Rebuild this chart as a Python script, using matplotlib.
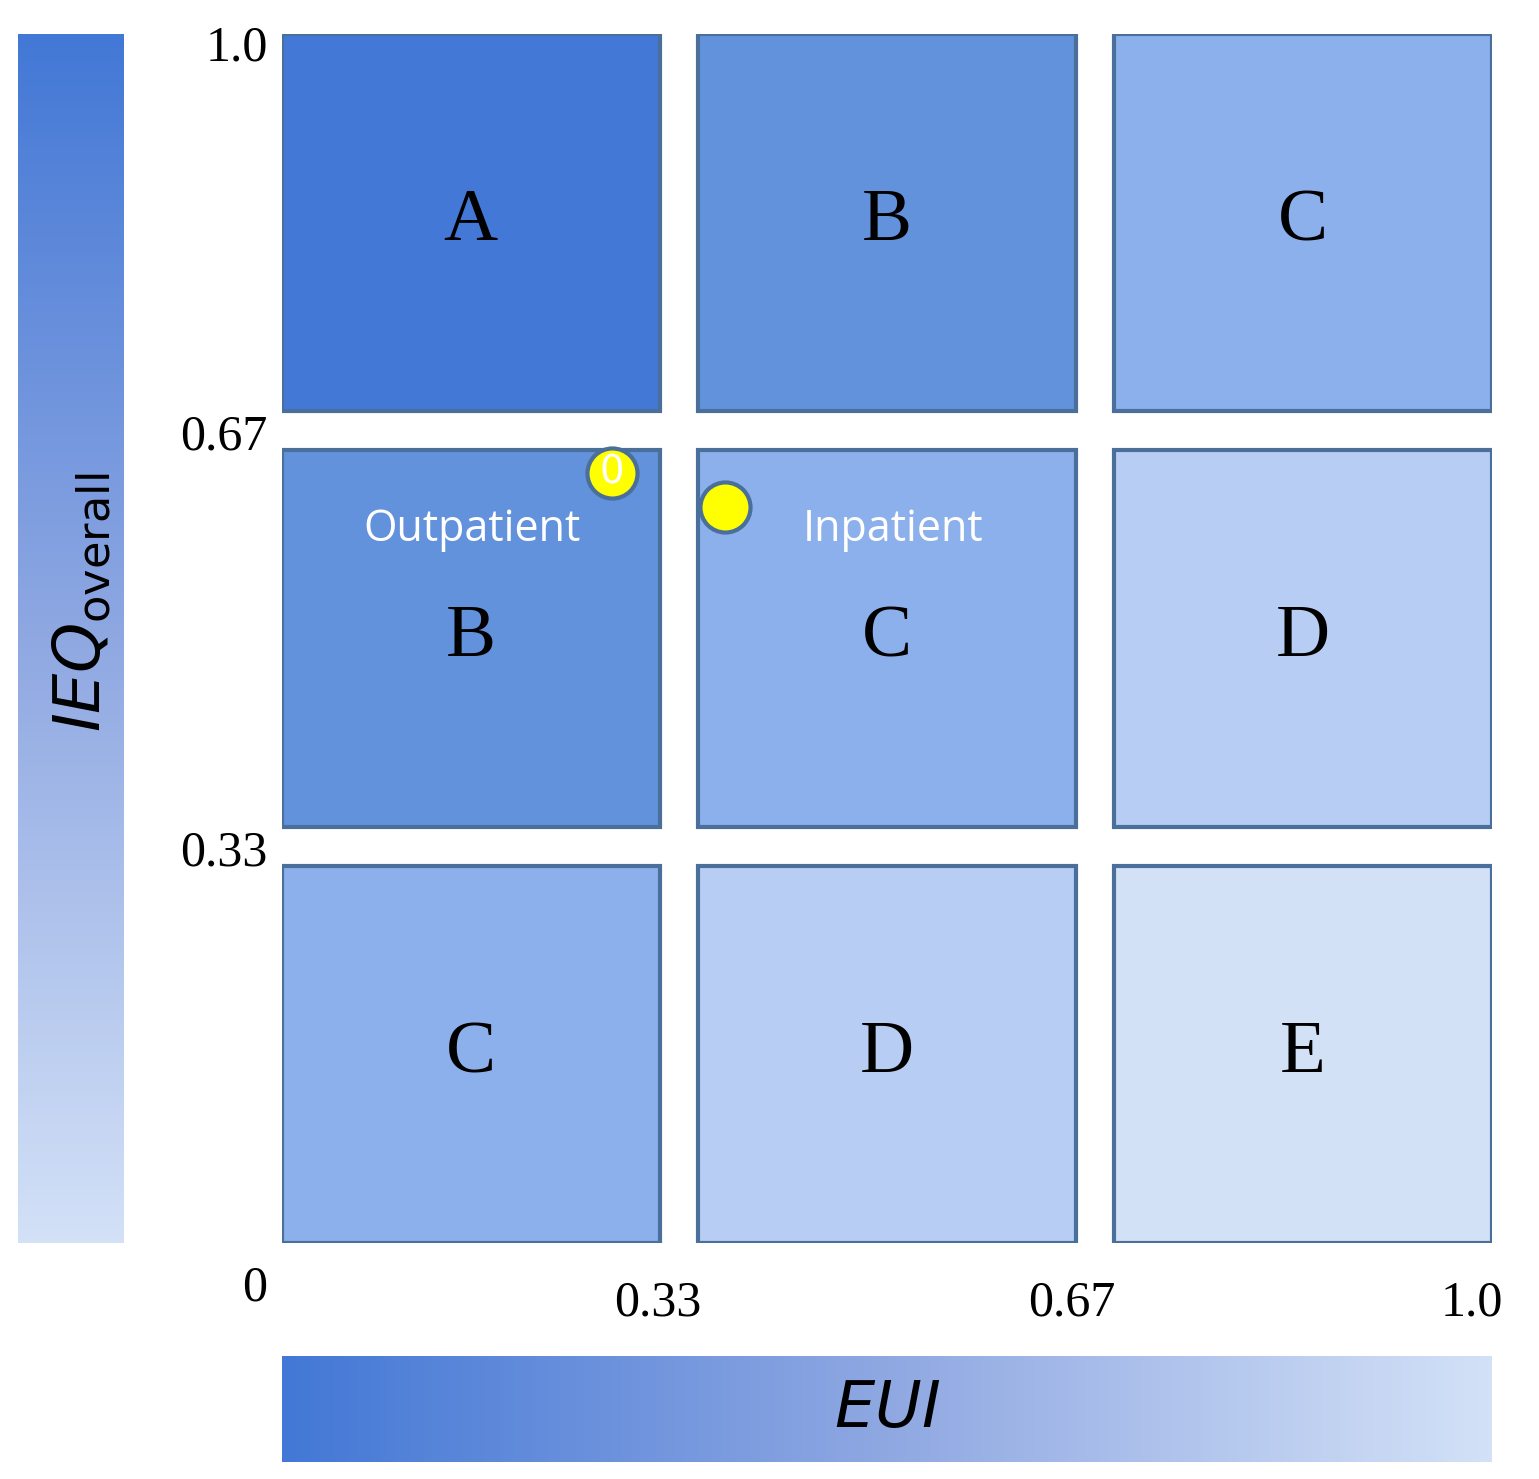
import matplotlib
matplotlib.use("Agg")
import matplotlib.pyplot as plt
import numpy as np
from matplotlib.patches import Rectangle
from matplotlib.colors import LinearSegmentedColormap

grades = [["C", "D", "E"], ["B", "C", "D"], ["A", "B", "C"]]  # rows bottom->top, cols left->right
grade_colors = {"A": "#4378d6", "B": "#6392dd", "C": "#8cb0ec", "D": "#b8cdf4", "E": "#d3e1f7"}
tick_vals = [0, 0.33, 0.67, 1.0]
tick_labels = ["0", "0.33", "0.67", "1.0"]
pt_names = ["Outpatient", "Inpatient"]
pt_x = [0.273, 0.366]
pt_y = [0.637, 0.609]

W, H = 1539, 1479
fig = plt.figure(figsize=(W/100, H/100), dpi=100)
def ax_px(x0, y0, x1, y1):
    return fig.add_axes([x0/W, 1-y1/H, (x1-x0)/W, (y1-y0)/H])

ax = ax_px(282, 34, 1492, 1243)
ax.set_xlim(0, 1); ax.set_ylim(0, 1); ax.axis("off")
starts = [0, 0.344, 0.688]
size = 0.312
for r in range(3):
    for c in range(3):
        g = grades[r][c]
        ax.add_patch(Rectangle((starts[c], starts[r]), size, size, facecolor=grade_colors[g],
                               edgecolor="#4a6f9a", linewidth=3, zorder=1))
        ax.text(starts[c]+size/2, starts[r]+size/2, g, ha="center", va="center",
                fontsize=54, family="Liberation Serif", zorder=2)
ax.scatter(pt_x, pt_y, s=1300, color="#ffff00", edgecolor="#4a6f9a", linewidth=3, zorder=5, clip_on=False)
ax.text(pt_x[0], pt_y[0], "0", color="white", fontsize=28, ha="center", va="center", zorder=6)
ax.text(0.157, 0.59, pt_names[0], color="white", fontsize=31, ha="center", va="center", family="Open Sans", zorder=6)
ax.text(0.505, 0.59, pt_names[1], color="white", fontsize=31, ha="center", va="center", family="Open Sans", zorder=6)

# tick labels
fs = 36
ypx = {1.0: 48, 0.67: 437, 0.33: 853}
for v, l in zip(tick_vals[1:], tick_labels[1:]):
    fig.text(268/W, 1-ypx[v]/H, l, ha="right", va="center", fontsize=fs, family="Liberation Serif")
fig.text(255/W, 1-1288/H, "0", ha="center", va="center", fontsize=fs, family="Liberation Serif")
xpx = {0.33: 658, 0.67: 1072, 1.0: 1472}
for v, l in zip(tick_vals[1:], tick_labels[1:]):
    fig.text(xpx[v]/W, 1-1303/H, l, ha="center", va="center", fontsize=fs, family="Liberation Serif")

cmap = LinearSegmentedColormap.from_list("b", ["#4378d6", "#8fa8e2", "#d3e1f7"])
grad = np.linspace(0, 1, 256)
cax = ax_px(18, 34, 124, 1243)
cax.imshow(grad[:, None], aspect="auto", cmap=cmap, extent=[0, 1, 1, 0])
cax.axis("off")
cax.text(0.6, 0.53, r"$IEQ_{\mathrm{overall}}$", rotation=90, ha="center", va="center",
         fontsize=46, transform=cax.transAxes)
hax = ax_px(282, 1356, 1492, 1462)
hax.imshow(grad[None, :], aspect="auto", cmap=cmap, extent=[0, 1, 0, 1])
hax.axis("off")
hax.text(0.5, 0.5, r"$EUI$", ha="center", va="center", fontsize=46, transform=hax.transAxes)
plt.rcParams["mathtext.fontset"] = "stix"
fig.savefig("out.png", dpi=100)
